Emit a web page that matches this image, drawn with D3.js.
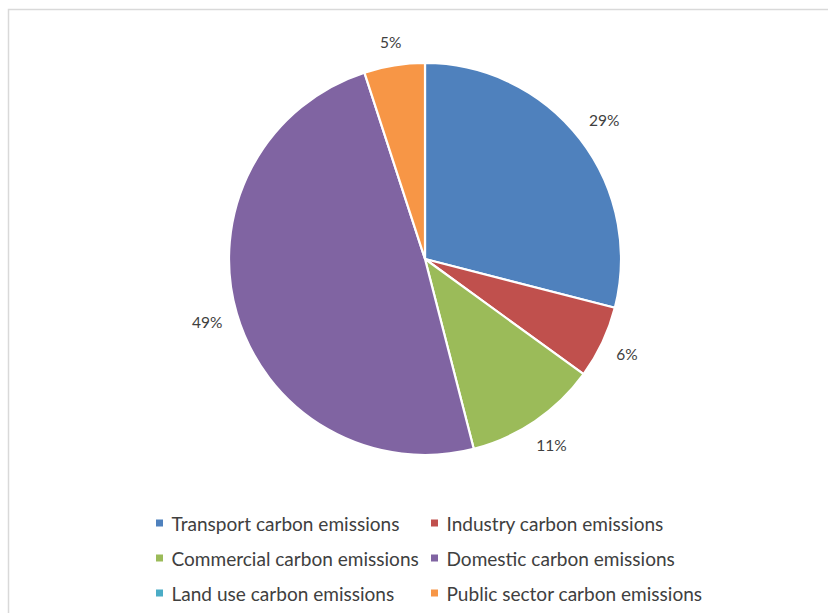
<!DOCTYPE html>
<html><head><meta charset="utf-8">
<script src="https://cdn.jsdelivr.net/npm/d3@7"></script>
<style>html,body{margin:0;padding:0;background:#fff;}svg{display:block;}</style>
</head><body>
<svg id="chart" width="828" height="613"></svg>
<script>
const categories = ["Transport carbon emissions","Industry carbon emissions","Commercial carbon emissions","Domestic carbon emissions","Land use carbon emissions","Public sector carbon emissions"];
const values = [29, 6, 11, 49, 0, 5];
const colors = ["#4f81bd","#c0504d","#9bbb59","#8064a2","#4bacc6","#f79646"];

const W = 828, H = 613;
const svg = d3.select("#chart");
svg.append("rect").attr("width", W).attr("height", H).attr("fill", "#fff");
svg.append("path").attr("d", `M8.5,${H} V9.5 H${W}`).attr("fill","none").attr("stroke","#d9d9d9").attr("stroke-width",1.5);

const cx = 425, cy = 259, r = 196;
const data = categories.map((c,i)=>({name:c, value:values[i], color:colors[i]}));
const pie = d3.pie().sort(null).value(d=>d.value);
const arcs = pie(data);
const arc = d3.arc().innerRadius(0).outerRadius(r);
const total = d3.sum(values);

const g = svg.append("g").attr("transform", `translate(${cx},${cy})`);
g.selectAll("path.slice").data(arcs.filter(a=>a.data.value>0)).enter().append("path")
  .attr("class","slice").attr("d", arc).attr("fill", d=>d.data.color)
  .attr("stroke","#fff").attr("stroke-width",2.2).attr("stroke-linejoin","round");

const fmt = d3.format(".0%");
const labFont = "Lato, 'Open Sans', sans-serif";
const gap = 14;
arcs.filter(a=>a.data.value>0).forEach(a=>{
  const m = (a.startAngle + a.endAngle)/2;
  const s = Math.sin(m), c = Math.cos(m);
  const t = g.append("text").text(fmt(a.data.value/total))
    .attr("font-family", labFont).attr("font-size", 15.5).attr("fill","#404040")
    .attr("text-anchor","middle").attr("dominant-baseline","central");
  const bb = t.node().getBBox();
  const ext = Math.abs(s)*bb.width/2 + Math.abs(c)*8;
  const d = r + gap + ext;
  t.attr("x", s*d).attr("y", -c*d);
});

// legend
const legX = [156, 431], legY0 = 523, legDY = 35;
const lg = svg.append("g");
const probe = lg.append("text").attr("font-family", labFont).attr("font-size", 100).text(categories[0]);
const legSize = 100 * 228 / probe.node().getComputedTextLength();
probe.remove();
data.forEach((d,i)=>{
  const col = i%2, row = Math.floor(i/2);
  const x = legX[col], y = legY0 + row*legDY;
  lg.append("rect").attr("x", x).attr("y", y-3.5).attr("width",7).attr("height",7).attr("fill", d.color);
  lg.append("text").attr("x", x+15.5).attr("y", y).attr("dominant-baseline","central")
    .attr("font-family", labFont).attr("font-size", legSize).attr("fill","#404040").text(d.name);
});
</script>
</body></html>
